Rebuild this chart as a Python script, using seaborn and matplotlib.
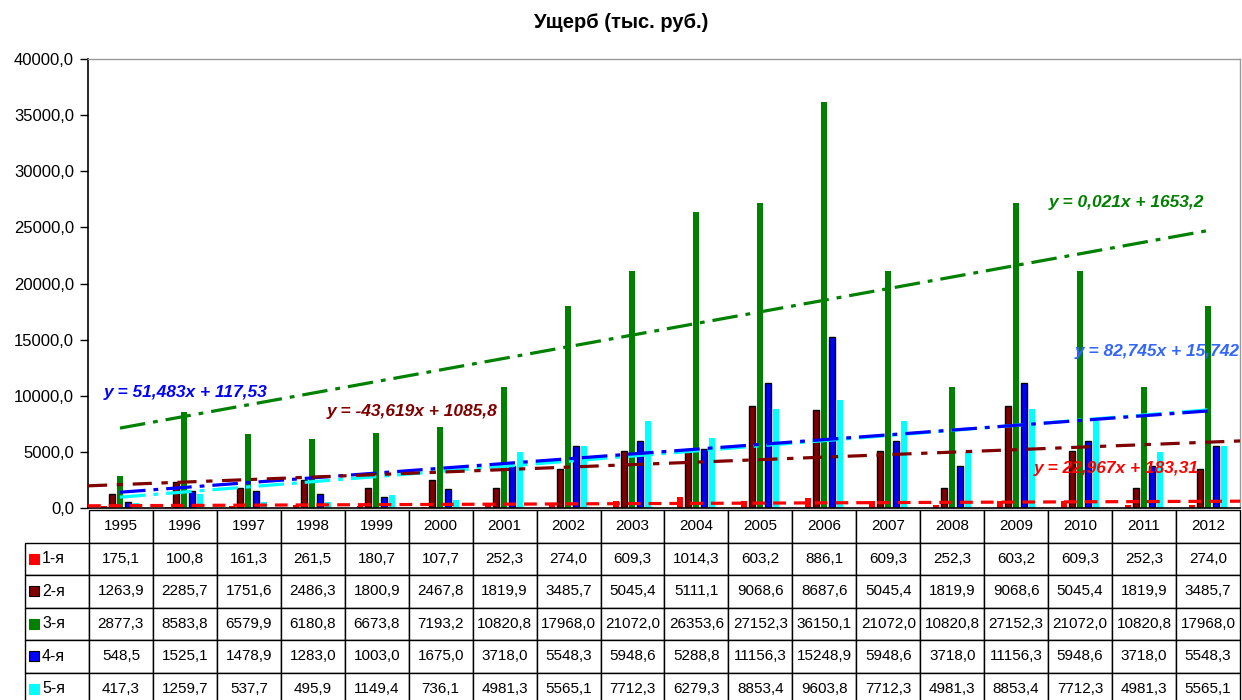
import numpy as np
import pandas as pd
import matplotlib
matplotlib.use('Agg')
import matplotlib.pyplot as plt
import seaborn as sns
from matplotlib.ticker import FuncFormatter
from matplotlib.patches import Rectangle

years = [str(y) for y in range(1995, 2013)]
series_names = ['1-я', '2-я', '3-я', '4-я', '5-я']

s1 = [175.1, 100.8, 161.3, 261.5, 180.7, 107.7, 252.3, 274.0, 609.3, 1014.3,
      603.2, 886.1, 609.3, 252.3, 603.2, 609.3, 252.3, 274.0]
s2 = [1263.9, 2285.7, 1751.6, 2486.3, 1800.9, 2467.8, 1819.9, 3485.7, 5045.4, 5111.1,
      9068.6, 8687.6, 5045.4, 1819.9, 9068.6, 5045.4, 1819.9, 3485.7]
s3 = [2877.3, 8583.8, 6579.9, 6180.8, 6673.8, 7193.2, 10820.8, 17968.0, 21072.0, 26353.6,
      27152.3, 36150.1, 21072.0, 10820.8, 27152.3, 21072.0, 10820.8, 17968.0]
s4 = [548.5, 1525.1, 1478.9, 1283.0, 1003.0, 1675.0, 3718.0, 5548.3, 5948.6, 5288.8,
      11156.3, 15248.9, 5948.6, 3718.0, 11156.3, 5948.6, 3718.0, 5548.3]
s5 = [417.3, 1259.7, 537.7, 495.9, 1149.4, 736.1, 4981.3, 5565.1, 7712.3, 6279.3,
      8853.4, 9603.8, 7712.3, 4981.3, 8853.4, 7712.3, 4981.3, 5565.1]
all_series = [s1, s2, s3, s4, s5]

colors = ['#FF0000', '#800000', '#008000', '#0000FF', '#00FFFF']

# trend equation labels as shown in the source chart
eq_labels = ['y = 22,967x + 183,31', 'y = -43,619x + 1085,8', 'y = 0,021x + 1653,2',
             'y = 51,483x + 117,53', 'y = 82,745x + 15,742']
eq_colors = ['#FF0000', '#800000', '#008000', '#0000FF', '#3366FF']
eq_pos = [(15.56, 3560), (4.56, 8640), (15.73, 27260), (1.02, 10250), (16.2, 13900)]

df = pd.DataFrame({'year': years * len(series_names),
                   'series': np.repeat(series_names, len(years)),
                   'value': s1 + s2 + s3 + s4 + s5})


def fmt(v):
    return f'{v:.1f}'.replace('.', ',')


sns.set_theme(style='white')
plt.rcParams['font.family'] = ['Liberation Sans', 'DejaVu Sans']

W, H = 1242, 700
fig = plt.figure(figsize=(W / 100, H / 100), dpi=100)
ax = fig.add_axes([88 / W, 1 - 508 / H, 1152 / W, 449 / H])

sns.barplot(data=df, x='year', y='value', hue='series', palette=colors,
            width=0.625, saturation=1, legend=False, ax=ax)

# narrow bars like the original, black outline on 2-я and 4-я
for i, cont in enumerate(ax.containers):
    for bar in cont:
        w = bar.get_width()
        bar.set_x(bar.get_x() + w * 0.17)
        bar.set_width(w * 0.66)
        if i in (1, 3):
            bar.set_edgecolor('black')
            bar.set_linewidth(1.0)
        else:
            bar.set_linewidth(0)

# linear trend lines
x = np.arange(len(years))
styles = [(0, (4, 2.5)), (0, (6, 3, 2, 3)), (0, (8, 2.5, 1.5, 2.5)),
          (0, (8, 2.5, 1.5, 2.5)), (0, (8, 2.5, 1.5, 2.5))]
extend = [True, True, False, False, False]
draw_order = [4, 3, 1, 0, 2]
for i in draw_order:
    k, b = np.polyfit(x, all_series[i], 1)
    xs = np.array([-0.5, len(years) - 0.5]) if extend[i] else np.array([0, len(years) - 1])
    ax.plot(xs, k * xs + b, color=colors[i], lw=2.3, ls=styles[i], zorder=5)

for lab, c, (px, py) in zip(eq_labels, eq_colors, eq_pos):
    ax.text(px, py, lab, color=c, fontsize=12.5, fontweight='bold', fontstyle='italic',
            ha='center', va='center', zorder=6)

ax.set_xlim(-0.5, len(years) - 0.5)
ax.set_ylim(0, 40000)
ax.set_yticks(np.arange(0, 40001, 5000))
ax.yaxis.set_major_formatter(FuncFormatter(lambda v, p: fmt(v)))
ax.set_xticks([])
ax.set_xlabel('')
ax.set_ylabel('')
ax.tick_params(axis='y', left=True, direction='out', length=6, width=1, pad=4,
               labelsize=12, colors='black')
ax.grid(False)
for side in ['left', 'bottom']:
    ax.spines[side].set_color('black')
    ax.spines[side].set_linewidth(1.2)
for side in ['top', 'right']:
    ax.spines[side].set_color('#999999')
    ax.spines[side].set_linewidth(1.0)

# data table under the plot
cell_text = [[''] + [fmt(v) for v in s] for s in all_series]
tbl_left, tbl_right, tbl_top, tbl_bot = 25, 1240, 510, 705
tbl = ax.table(cellText=cell_text, colLabels=[''] + years, cellLoc='center',
               bbox=[(tbl_left - 88) / 1152, -(tbl_bot - 508) / 449,
                     (tbl_right - tbl_left) / 1152, (tbl_bot - tbl_top) / 449])
tbl.auto_set_font_size(False)
tbl.set_fontsize(11)
for (r, c), cell in tbl.get_celld().items():
    cell.set_edgecolor('black')
    cell.set_linewidth(1.0)
    cell.get_text().set_color('black')
tbl[0, 0].set_visible(False)

row_h = (tbl_bot - tbl_top) / 6
for i, (name, c) in enumerate(zip(series_names, colors)):
    yc = tbl_top + row_h * (i + 1.5)
    ec = 'black' if i in (1, 3) else c
    fig.add_artist(Rectangle((29 / W, 1 - (yc + 5) / H), 10 / W, 10 / H,
                             transform=fig.transFigure, facecolor=c,
                             edgecolor=ec, linewidth=0.8))
    fig.text(42 / W, 1 - yc / H, name, ha='left', va='center', fontsize=11.5, color='black')

fig.text(0.5, 1 - 22 / H, 'Ущерб (тыс. руб.)', ha='center', va='center',
         fontsize=14.5, fontweight='bold', color='black')

fig.savefig('out.png', dpi=100)
